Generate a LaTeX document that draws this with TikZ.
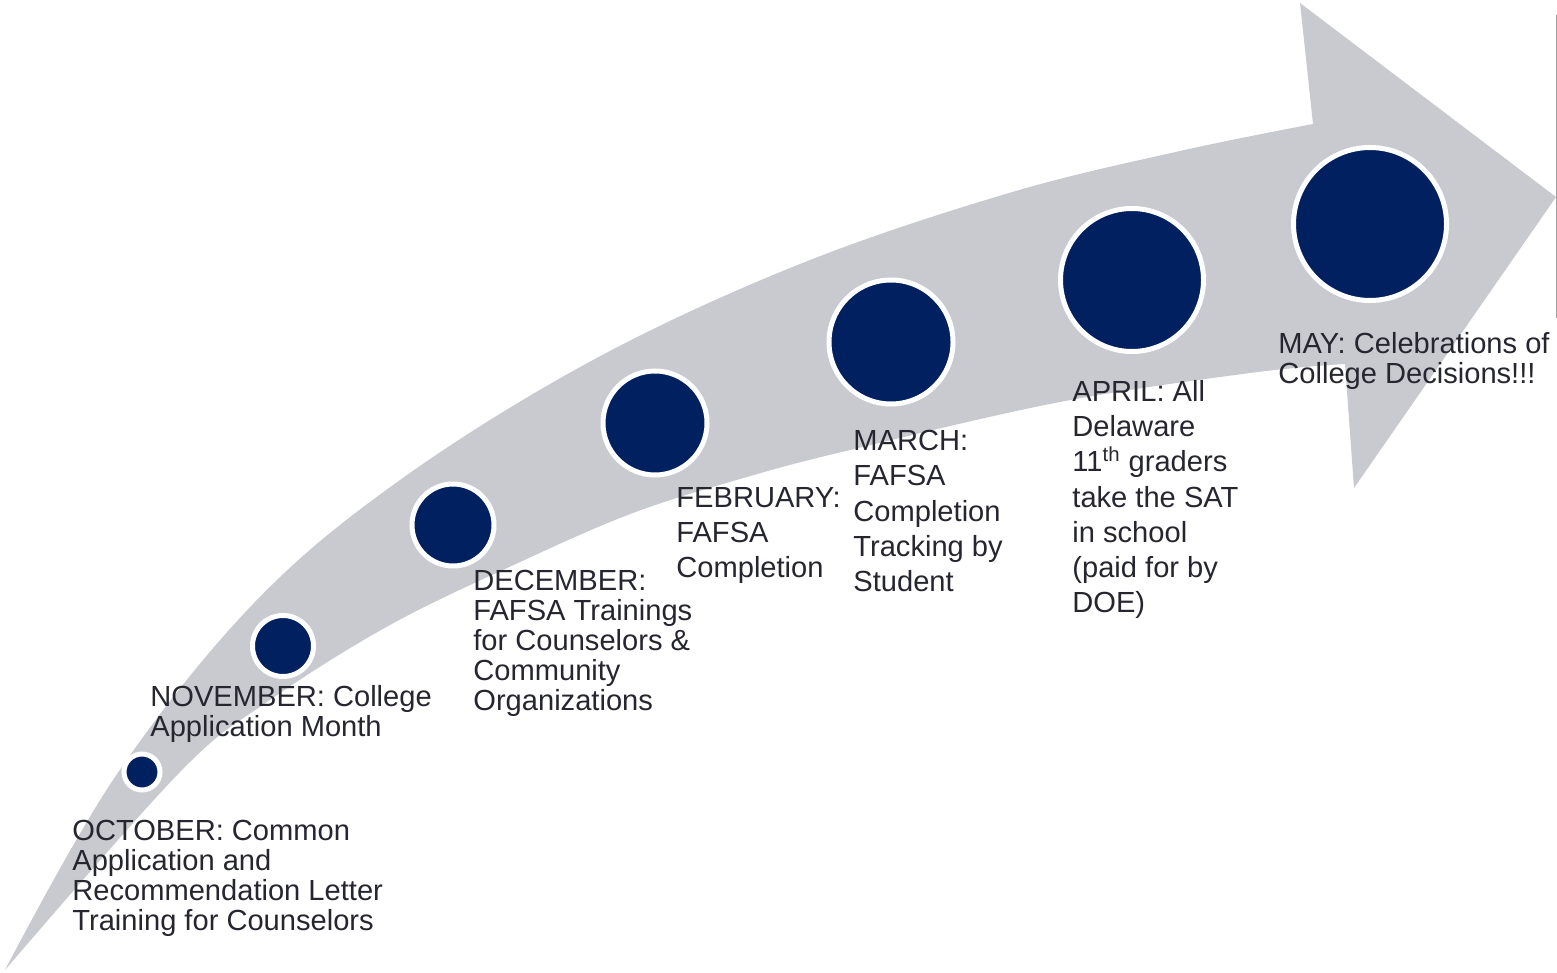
\documentclass[tikz,border=0pt]{standalone}
\usepackage{fontspec}
\setmainfont{Liberation Sans}
\definecolor{bandgrey}{RGB}{201,202,208}
\definecolor{navy}{RGB}{0,32,96}
\definecolor{txt}{RGB}{38,38,48}
\definecolor{linegrey}{RGB}{160,160,160}
\begin{document}
\begin{tikzpicture}[x=0.5pt,y=-0.5pt,
  dot/.style={circle,fill=navy,draw=white,line width=2.5pt,inner sep=0pt},
  lbl/.style={anchor=north west,inner sep=0pt,align=left,text=txt,font=\fontsize{14.55}{15}\selectfont},
  lblw/.style={lbl,font=\fontsize{14.55}{17.6}\selectfont}]
\useasboundingbox (0,0) rectangle (1557,973);
% arrow band
\fill[bandgrey] plot[smooth,tension=0.6] coordinates {(5,970) (115,777) (253,604) (400,480) (593,360) (800,264) (1009,193) (1180,151) (1313,124)}
  -- (1300,3) -- (1556,197) -- (1354,488)
  -- plot[smooth,tension=0.6] coordinates {(1345,364) (1250,373) (1060,402) (850,450) (747,477) (633,513) (518,563) (390,625) (270,700) (180,772) (5,970)} -- cycle;
% thin vertical line at right
\coordinate (vt) at (1556,15);
\coordinate (vb) at (1556,318);
\draw[linegrey,line width=0.5pt] (vt) -- (vb);
% circles
\node[dot,minimum size=18pt] (c1) at (142,772) {};
\node[dot,minimum size=30.5pt] (c2) at (283,646) {};
\node[dot,minimum size=41pt] (c3) at (453,525) {};
\node[dot,minimum size=52pt] (c4) at (655,423) {};
\node[dot,minimum size=62pt] (c5) at (891,342) {};
\node[dot,minimum size=71.5pt] (c6) at (1132,280) {};
\node[dot,minimum size=76.5pt] (c7) at (1370,224) {};
% labels
\node[lbl] (oct) at (72,820) {OCTOBER: Common\\Application and\\Recommendation Letter\\Training for Counselors};
\node[lbl] (nov) at (150,685) {NOVEMBER: College\\Application Month};
\node[lbl] (dec) at (473,570) {DECEMBER:\\FAFSA Trainings\\for Counselors \&\\Community\\Organizations};
\node[lblw] (feb) at (676,487) {FEBRUARY:\\FAFSA\\Completion};
\node[lblw] (mar) at (853,430) {MARCH:\\FAFSA\\Completion\\Tracking by\\Student};
\node[lblw] (apr) at (1072,380) {APRIL: All\\Delaware\\11\textsuperscript{th} graders\\take the SAT\\in school\\(paid for by\\DOE)};
\node[lbl] (may) at (1278,332) {MAY: Celebrations of\\College Decisions!!!};
\end{tikzpicture}
\end{document}
